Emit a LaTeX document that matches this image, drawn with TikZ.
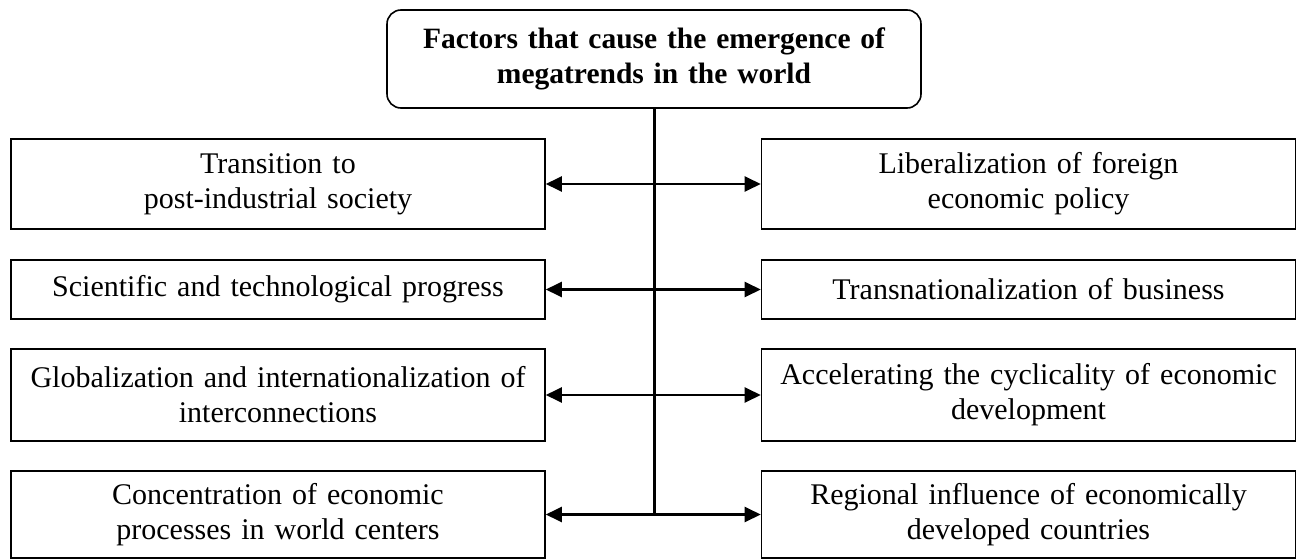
\documentclass[tikz,border=0pt]{standalone}
\usepackage{fontspec}
\setmainfont{Liberation Serif}
\usetikzlibrary{arrows.meta}

\tikzset{
  factor/.style={draw=black,line width=1.6pt,align=center,text width=520pt,
    minimum width=534pt,inner sep=0pt,font=\fontsize{30}{35}\selectfont},
  link/.style={line width=2.4pt,{Triangle[length=16pt,width=15pt]}-{Triangle[length=16pt,width=15pt]}},
}

\begin{document}
\begin{tikzpicture}[x=1pt,y=-1pt]
   \useasboundingbox (0,0) rectangle (1296,559);
   % main box
   \node[factor,rounded corners=14pt,minimum height=98pt,font=\fontsize{29.5}{35}\selectfont\bfseries]
     (top) at (654,59) {Factors that cause the emergence of\\megatrends in the world};
   % left column
   \node[factor,minimum height=90pt] (l1) at (278,184) {Transition to\\post-industrial society};
   \node[factor,minimum height=59pt] (l2) at (278,289.5) {Scientific and technological progress};
   \node[factor,minimum height=92pt] (l3) at (278,395) {Globalization and internationalization of\\interconnections};
   \node[factor,minimum height=87pt] (l4) at (278,514.5) {Concentration of economic\\processes in world centers};
   % right column
   \node[factor,minimum height=90pt] (r1) at (1028.5,184) {Liberalization of foreign\\economic policy};
   \node[factor,minimum height=59pt] (r2) at (1028.5,289.5) {Transnationalization of business};
   \node[factor,minimum height=92pt] (r3) at (1028.5,395) {Accelerating the cyclicality of economic\\development};
   \node[factor,minimum height=87pt] (r4) at (1028.5,514.5) {Regional influence of economically\\developed countries};
   % connectors
   \coordinate (hub) at (top.south |- l4.east);
   \draw[line width=3pt] (top.south) -- (hub);
   \draw[link] (l1) -- (r1);
   \draw[link] (l2) -- (r2);
   \draw[link] (l3) -- (r3);
   \draw[link] (l4) -- (r4);
\end{tikzpicture}
\end{document}
